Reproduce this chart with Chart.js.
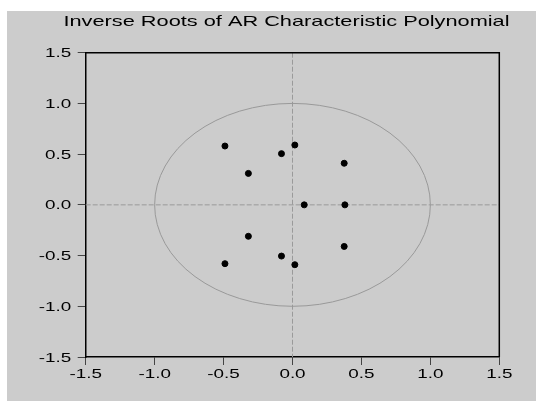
<!DOCTYPE html>
<html>
<head>
<meta charset="utf-8">
<script src="https://cdn.jsdelivr.net/npm/chart.js@4/dist/chart.umd.min.js"></script>
<style>
    html, body { margin: 0; padding: 0; background: #ffffff; }
    #wrap { position: absolute; left: 7px; top: 11px; width: 529px; height: 390px; background: #cccccc; }
</style>
</head>
<body>
<div id="wrap"><canvas id="chart"></canvas></div>
<script>
const rootRe = [-0.49, -0.49, -0.08, -0.08, 0.017, 0.017, 0.375, 0.375, -0.32, -0.32, 0.085, 0.38];
const rootIm = [0.58, -0.58, 0.505, -0.505, 0.59, -0.59, 0.41, -0.41, 0.31, -0.31, 0, 0];
const axisMin = -1.5;
const axisMax = 1.5;
const tickStep = 0.5;
const unitRadius = 1;
const chartTitle = 'Inverse Roots of AR Characteristic Polynomial';

const points = rootRe.map((re, i) => ({ x: re, y: rootIm[i] }));

const fontFamily = '"Liberation Sans", Arial, sans-serif';
const stretch = 1.45; // the text in the original is drawn wide

function wideText(ctx, text, x, y, align) {
    ctx.save();
    ctx.translate(x, y);
    ctx.scale(stretch, 1);
    ctx.textAlign = align;
    ctx.fillText(text, 0, 0);
    ctx.restore();
}

// frame, zero lines, unit circle, wide tick labels and title
const decorPlugin = {
    id: 'decor',
    beforeDatasetsDraw(chart) {
        const ctx = chart.ctx;
        const area = chart.chartArea;
        const xs = chart.scales.x;
        const ys = chart.scales.y;
        const x0 = xs.getPixelForValue(0);
        const y0 = ys.getPixelForValue(0);

        ctx.save();
        ctx.strokeStyle = '#9a9a9a';
        ctx.lineWidth = 1;
        ctx.setLineDash([5, 2]);
        ctx.beginPath();
        ctx.moveTo(area.left, y0);
        ctx.lineTo(area.right, y0);
        ctx.moveTo(x0, area.top);
        ctx.lineTo(x0, area.bottom);
        ctx.stroke();

        ctx.setLineDash([]);
        ctx.strokeStyle = '#999999';
        const rx = xs.getPixelForValue(unitRadius) - x0;
        const ry = y0 - ys.getPixelForValue(unitRadius);
        ctx.beginPath();
        ctx.ellipse(x0, y0, rx, ry, 0, 0, Math.PI * 2);
        ctx.stroke();

        // top and right sides of the frame
        ctx.strokeStyle = '#000000';
        ctx.lineWidth = 1.5;
        ctx.beginPath();
        ctx.moveTo(area.left, area.top);
        ctx.lineTo(area.right, area.top);
        ctx.lineTo(area.right, area.bottom);
        ctx.stroke();
        ctx.restore();
    },
    afterDraw(chart) {
        const ctx = chart.ctx;
        const area = chart.chartArea;
        const xs = chart.scales.x;
        const ys = chart.scales.y;
        ctx.save();
        ctx.fillStyle = '#000000';
        ctx.textBaseline = 'alphabetic';

        ctx.font = '13px ' + fontFamily;
        xs.ticks.forEach((t) => {
            wideText(ctx, t.value.toFixed(1), xs.getPixelForValue(t.value), area.bottom + 20.5, 'center');
        });
        ys.ticks.forEach((t) => {
            wideText(ctx, t.value.toFixed(1), area.left - 14.5, ys.getPixelForValue(t.value) + 4.6, 'right');
        });

        ctx.font = '15px ' + fontFamily;
        wideText(ctx, chartTitle, (area.left + area.right) / 2 - 6, 15, 'center');
        ctx.restore();
    }
};

const hiddenTicks = { stepSize: tickStep, color: 'rgba(0,0,0,0)', font: { family: fontFamily, size: 13 } };

const ctx = document.getElementById('chart').getContext('2d');
new Chart(ctx, {
    type: 'scatter',
    data: {
        datasets: [{
            data: points,
            backgroundColor: '#000000',
            borderColor: '#000000',
            pointRadius: 3,
            pointHoverRadius: 3
        }]
    },
    options: {
        responsive: true,
        maintainAspectRatio: false,
        animation: false,
        layout: { padding: { left: 0, right: 36.7, top: 41.7, bottom: 0 } },
        plugins: {
            legend: { display: false },
            title: { display: false },
            tooltip: { enabled: false }
        },
        scales: {
            x: {
                type: 'linear',
                min: axisMin,
                max: axisMax,
                afterFit: (scale) => { scale.height = 44; },
                ticks: { ...hiddenTicks, maxRotation: 0 },
                grid: { drawOnChartArea: false, drawTicks: true, tickLength: 8, color: '#444444' },
                border: { color: '#000000', width: 1.5 }
            },
            y: {
                type: 'linear',
                min: axisMin,
                max: axisMax,
                afterFit: (scale) => { scale.width = 78.7; },
                ticks: hiddenTicks,
                grid: { drawOnChartArea: false, drawTicks: true, tickLength: 8, color: '#444444' },
                border: { color: '#000000', width: 1.5 }
            }
        }
    },
    plugins: [decorPlugin]
});
</script>
</body>
</html>
